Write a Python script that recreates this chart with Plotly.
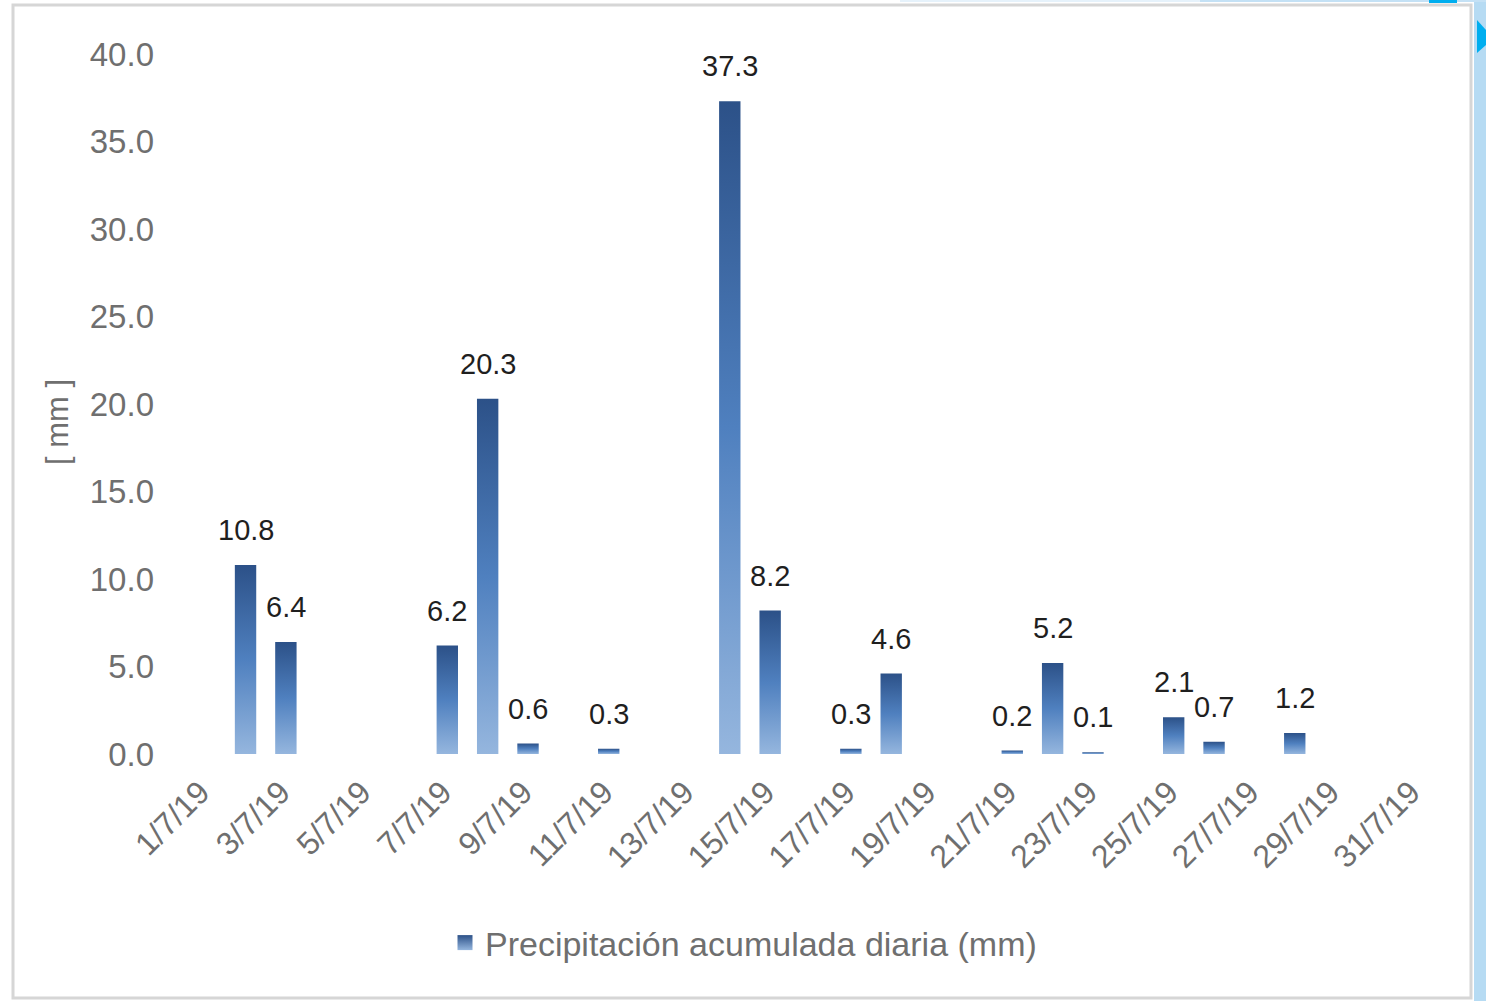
import plotly.graph_objects as go

# Daily accumulated rainfall, July 2019 (only days with rain)
rain_days = [2, 3, 7, 8, 9, 11, 14, 15, 17, 18, 21, 22, 23, 25, 26, 28]
rain_mm = [10.8, 6.4, 6.2, 20.3, 0.6, 0.3, 37.3, 8.2, 0.3, 4.6, 0.2, 5.2, 0.1, 2.1, 0.7, 1.2]

tick_days = [1, 3, 5, 7, 9, 11, 13, 15, 17, 19, 21, 23, 25, 27, 29, 31]
tick_labels = ["1/7/19", "3/7/19", "5/7/19", "7/7/19", "9/7/19", "11/7/19", "13/7/19",
               "15/7/19", "17/7/19", "19/7/19", "21/7/19", "23/7/19", "25/7/19",
               "27/7/19", "29/7/19", "31/7/19"]
y_ticks = [0, 5, 10, 15, 20, 25, 30, 35, 40]

series_name = "Precipitación acumulada diaria (mm)"
y_title = "[ mm ]"

FONT = "Liberation Sans, Arial, sans-serif"
GREY = "#6f6f6f"
GRADIENT = [[0.0, "#95b6de"], [0.5, "#4f80bf"], [1.0, "#2c5188"]]
BAR_W = 0.53

# figure geometry (pixels)
W, H = 1486, 1001
ML, MR, MT, MB = 185, 50, 54, 247
PW, PH = W - ML - MR, H - MT - MB


def px(x):
    return (x - ML) / PW


def py(y):
    return (H - MB - y) / PH


fig = go.Figure()

# each bar is its own filled trace so every bar gets its own dark-to-light gradient
for d, v in zip(rain_days, rain_mm):
    x0, x1 = d - BAR_W / 2, d + BAR_W / 2
    fig.add_trace(go.Scatter(
        x=[x0, x1, x1, x0, x0], y=[0, 0, v, v, 0],
        mode="lines", line=dict(width=0), fill="toself",
        fillgradient=dict(type="vertical", colorscale=GRADIENT),
        showlegend=False, hoverinfo="skip",
    ))
    fig.add_annotation(
        x=d, y=v, text=f"{v:.1f}", showarrow=False, yanchor="middle", yshift=35,
        font=dict(family=FONT, size=29, color="#1f1f1f"),
    )

# legend entry
fig.add_trace(go.Scatter(
    x=[None], y=[None], mode="markers", name=series_name,
    marker=dict(symbol="square", size=15, color="#2c5188",
                gradient=dict(type="vertical", color="#95b6de")),
))

# vertical axis title
fig.add_annotation(
    xref="paper", yref="paper", x=px(57), y=py(422), text=y_title, textangle=-90,
    showarrow=False, xanchor="center", yanchor="middle",
    font=dict(family=FONT, size=31, color=GREY),
)

shapes = [
    # outer chart frame
    dict(type="rect", xref="paper", yref="paper", x0=px(13), x1=px(1471), y0=py(998), y1=py(5),
         line=dict(color="#d6d6d6", width=3), fillcolor="rgba(0,0,0,0)", layer="below"),
    # page background strips around the chart
    dict(type="rect", xref="paper", yref="paper", x0=px(1474), x1=px(1486), y0=py(1001), y1=py(0),
         line=dict(width=0), fillcolor="#b6dbf3", layer="below"),
    dict(type="rect", xref="paper", yref="paper", x0=px(900), x1=px(1200), y0=py(2), y1=py(0),
         line=dict(width=0), fillcolor="#e6f2fb", layer="below"),
    dict(type="rect", xref="paper", yref="paper", x0=px(1200), x1=px(1486), y0=py(2), y1=py(0),
         line=dict(width=0), fillcolor="#c4e1f5", layer="below"),
    dict(type="rect", xref="paper", yref="paper", x0=px(1429), x1=px(1457), y0=py(3), y1=py(0),
         line=dict(width=0), fillcolor="#00aeef", layer="below"),
    dict(type="path", xref="paper", yref="paper",
         path=f"M {px(1477)} {py(20)} L {px(1486)} {py(30)} L {px(1486)} {py(45)} L {px(1477)} {py(53)} Z",
         line=dict(width=0), fillcolor="#00aeef", layer="below"),
]

fig.update_layout(
    width=W, height=H,
    margin=dict(l=ML, r=MR, t=MT, b=MB),
    paper_bgcolor="white", plot_bgcolor="white",
    font=dict(family=FONT, color=GREY),
    shapes=shapes,
    showlegend=True,
    legend=dict(
        orientation="h", x=px(445), xanchor="left", y=py(943), yanchor="middle",
        font=dict(family=FONT, size=34, color=GREY), itemwidth=30,
        bgcolor="rgba(0,0,0,0)",
    ),
    xaxis=dict(
        range=[0.5, 31.5], tickmode="array", tickvals=tick_days, ticktext=tick_labels,
        tickangle=-45, tickfont=dict(family=FONT, size=32, color=GREY),
        showgrid=False, zeroline=False, showline=False, ticks="",
        ticklabelstandoff=12, ticklabelshift=-5,
    ),
    yaxis=dict(
        range=[0, 40], tickmode="array", tickvals=y_ticks,
        tickformat=".1f", tickfont=dict(family=FONT, size=33, color=GREY),
        showgrid=False, zeroline=False, showline=False, ticks="",
        ticklabelstandoff=30,
    ),
)

fig.write_html("out.html")
